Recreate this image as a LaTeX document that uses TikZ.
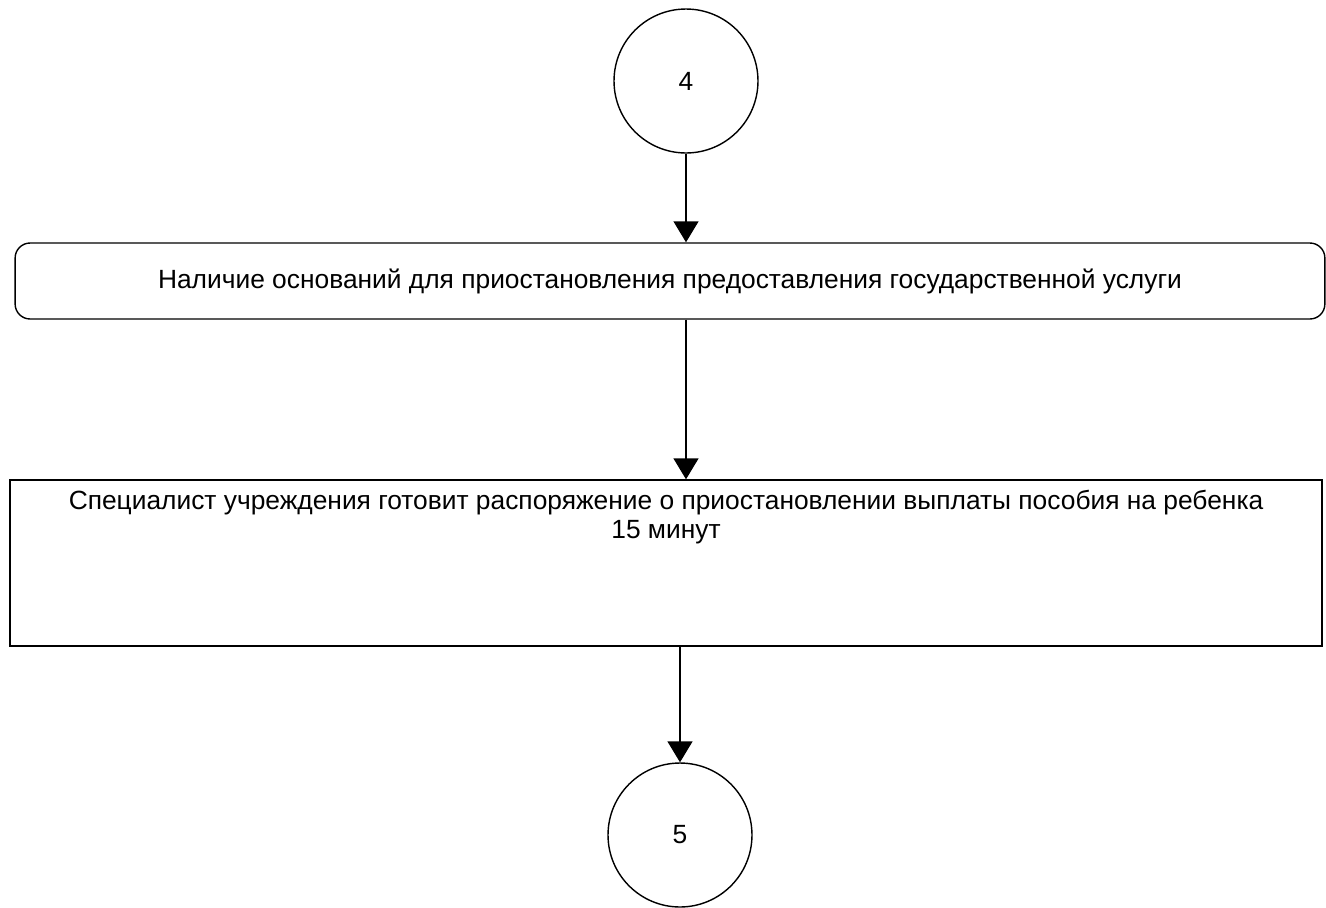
\documentclass[tikz,border=0pt]{standalone}
\usepackage{fontspec}
\setmainfont{Liberation Sans}
\usepackage{tikz}
\usetikzlibrary{arrows.meta,positioning,calc}

\begin{document}
\begin{tikzpicture}[x=0.02cm,y=-0.02cm,
    line width=0.8pt,
    circ/.style={draw, circle, minimum size=2.88cm, inner sep=0pt},
    roundbox/.style={draw, rectangle, rounded corners=0.3cm, minimum width=26.2cm, minimum height=1.52cm, inner sep=0pt},
    plainbox/.style={draw, rectangle, minimum width=26.24cm, minimum height=3.32cm, inner sep=0pt},
    arr/.style={-{Triangle[width=0.5cm,length=0.42cm]}}]
    \clip (0,0) rectangle (1326,907);
    \useasboundingbox (0,0) rectangle (1326,907);
    \fontsize{15}{16}\selectfont

    % circles
    \node[circ] (c4) at (686,81) {4};
    \node[circ] (c5) at (680,835) {5};

    % boxes
    \node[roundbox] (cond) at (670,281) {Наличие оснований для приостановления предоставления государственной услуги};
    \node[plainbox] (order) at (666,563) {};
    \node[below=6pt of order.north, align=center, inner sep=0pt] (ordertxt) {Специалист учреждения готовит распоряжение о приостановлении выплаты пособия на ребенка\\15 минут};

    % arrows
    \draw[arr] (c4.south) -- (c4 |- cond.north);
    \draw[arr] (c4 |- cond.south) -- (c4 |- order.north);
    \draw[arr] (c5 |- order.south) -- (c5.north);
\end{tikzpicture}
\end{document}
